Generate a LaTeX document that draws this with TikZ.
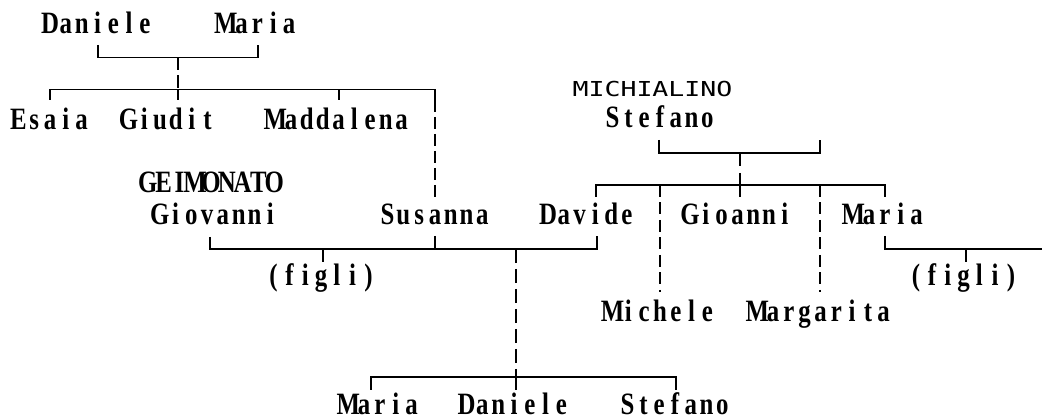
\documentclass[tikz,border=0pt]{standalone}
\usepackage{fontspec}
\usepackage{graphicx}
\newfontfamily\namefont{Liberation Serif}
\newfontfamily\surfont{DejaVu Sans Mono}
\newcommand\nm[1]{\monoA#1\relax}
\def\monoA#1{\ifx#1\relax\else\makebox[15.8pt][c]{\scalebox{0.92}[1.15]{#1}}\expandafter\monoA\fi}
\newcommand\sm[1]{\scalebox{1.29}[1]{#1}}
\begin{document}
\begin{tikzpicture}[x=1pt,y=-1pt,
  person/.style={inner sep=0pt, anchor=base, font=\fontsize{27}{28}\namefont\bfseries},
  surname/.style={inner sep=0pt, anchor=base, font=\fontsize{20.6}{21}\surfont},
  link/.style={line width=1.6pt, line cap=butt},
  dlink/.style={line width=1.6pt, dash pattern=on 12.5pt off 5.5pt}]
\useasboundingbox (0,0) rectangle (1042,419);
% ---- names ----
\node[person] (dan1) at (97.5,34) {\nm{Daniele}};
\node[person] (mar1) at (257.5,34) {\nm{Maria}};
\node[person] (esa) at (50,130) {\nm{Esaia}};
\node[person] (giu) at (168,130) {\nm{Giudit}};
\node[person] (mad) at (338.5,130) {\nm{Maddalena}};
\node[person] (gei) at (211,193) {\nm{GEIMONATO}};
\node[person] (gio) at (215,225) {\nm{Giovanni}};
\node[person] (sus) at (435,225) {\nm{Susanna}};
\node[person] (dav) at (587.5,225) {\nm{Davide}};
\node[person] (gioa) at (737.5,225) {\nm{Gioanni}};
\node[person] (mar2) at (885,225) {\nm{Maria}};
\node[surname] (mic) at (652.5,97) {\sm{MICHIALINO}};
\node[person] (ste1) at (660,128) {\nm{Stefano}};
\node[person] (fig1) at (321,286) {\nm{(figli)}};
\node[person] (fig2) at (963.5,286) {\nm{(figli)}};
\node[person] (mich) at (660,322) {\nm{Michele}};
\node[person] (marg) at (820.5,322) {\nm{Margarita}};
\node[person] (mar3) at (380,415) {\nm{Maria}};
\node[person] (dan3) at (514,415) {\nm{Daniele}};
\node[person] (ste3) at (675,415) {\nm{Stefano}};
% ---- coordinates ----
\coordinate (tD) at (98,45);
\coordinate (tM) at (258,45);
\coordinate (j1) at (178,57.5);
\coordinate (j1b) at (178,89.5);
\coordinate (eT) at (50,100);
\coordinate (gT) at (178,100);
\coordinate (mT) at (339,100);
\coordinate (sT) at (435,100);
\coordinate (sB) at (435,197);
\coordinate (gvT) at (210,237);
\coordinate (suT) at (435,236);
\coordinate (dvT) at (597,236);
\coordinate (k1) at (516,249);
\coordinate (fT) at (323,262);
\coordinate (k2) at (516,377);
\coordinate (bM) at (371,390);
\coordinate (bD) at (516,390);
\coordinate (bS) at (676,390);
\coordinate (sfT) at (659,140);
\coordinate (wT) at (820,140);
\coordinate (j2) at (740,153);
\coordinate (j2b) at (740,185);
\coordinate (dvU) at (596,197);
\coordinate (giT) at (740,197);
\coordinate (maT) at (885,197);
\coordinate (mcT) at (660,185);
\coordinate (mcB) at (660,292);
\coordinate (mgT) at (820,185);
\coordinate (mgB) at (820,292);
\coordinate (m2T) at (885,236);
\coordinate (rE) at (1042,249);
\coordinate (f2T) at (966,262);
% ---- connectors: family 1 ----
\draw[link] (tD) |- (j1) -| (tM);
\draw[dlink] (j1) -- (j1b);
\draw[link] (eT) |- (j1b) -| (sT);
\draw[link] (j1b) -- (gT);
\draw[link] (mT) -- (mT |- j1b);
\draw[link, dash pattern=on 12pt off 5pt] (sT) -- (sB);
% ---- Giovanni / Susanna / Davide ----
\draw[link] (gvT) |- (k1) -| (dvT);
\draw[link] (suT) -- (suT |- k1);
\draw[link] (fT) -- (fT |- k1);
\draw[link, dash pattern=on 14pt off 6pt] (k1) -- (k2);
\draw[link] (bM) |- (k2) -| (bS);
\draw[link] (k2) -- (bD);
% ---- family 2 ----
\draw[link] (sfT) |- (j2) -| (wT);
\draw[link, dash pattern=on 13pt off 7pt] (j2) -- (j2b);
\draw[link] (dvU) |- (j2b) -| (maT);
\draw[link] (j2b) -- (giT);
\draw[link, dash pattern=on 12pt off 5.5pt] (mcT) -- (mcB);
\draw[link, dash pattern=on 12pt off 5.5pt] (mgT) -- (mgB);
\draw[link] (m2T) |- (rE);
\draw[link] (f2T) -- (f2T |- rE);
\end{tikzpicture}
\end{document}
